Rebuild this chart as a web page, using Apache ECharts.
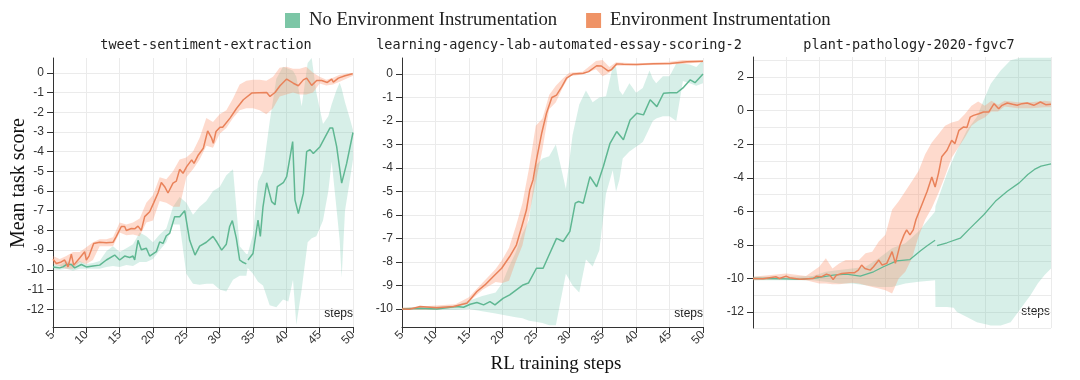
<!DOCTYPE html>
<html><head><meta charset="utf-8">
<script src="https://cdn.jsdelivr.net/npm/echarts@6/dist/echarts.min.js"></script>
<style>html,body{margin:0;padding:0;background:#fff}#c{width:1080px;height:380px}</style>
</head><body><div id="c"></div>
<script>
// ---------- labels ----------
const panelTitles = ['tweet-sentiment-extraction', 'learning-agency-lab-automated-essay-scoring-2', 'plant-pathology-2020-fgvc7'];
const seriesNames = ['No Environment Instrumentation', 'Environment Instrumentation'];
const yLabel = 'Mean task score';
const xLabel = 'RL training steps';
const stepsLabel = 'steps';

// ---------- panel 1: tweet-sentiment-extraction ----------
const p1Orange = [[5,-9.46],[5.5,-9.68],[6.25,-9.6],[6.75,-9.5],[7.25,-9.85],[7.75,-9.2],[8.1,-9.76],[9,-9.4],[9.75,-9.08],[10,-9.5],[10.4,-9.3],[11.1,-8.66],[12,-8.6],[13,-8.63],[14,-8.6],[14.5,-8.3],[15.25,-7.8],[15.75,-7.8],[16,-8.0],[16.75,-7.9],[17.25,-7.92],[17.75,-7.78],[18.25,-8.0],[18.75,-7.3],[19.5,-7.05],[20.1,-6.6],[20.75,-6.1],[21.25,-5.57],[21.75,-5.78],[22.25,-6.1],[23,-5.6],[23.5,-5.5],[24,-4.9],[24.5,-5.1],[25.05,-4.76],[25.8,-4.42],[26.15,-4.6],[26.8,-4.17],[27.55,-3.83],[28.2,-2.95],[28.8,-3.32],[29.05,-3.58],[29.45,-2.98],[30.05,-2.76],[30.45,-2.76],[31.55,-2.3],[32.55,-1.8],[33.55,-1.37],[34.8,-1.03],[37.05,-1.0],[37.55,-1.2],[38.3,-1.0],[39.05,-0.66],[40.05,-0.32],[41.05,-0.53],[41.8,-0.66],[42.55,-0.36],[43.05,-0.27],[43.8,-0.64],[44.55,-0.39],[45.3,-0.39],[46.15,-0.49],[46.8,-0.32],[47.05,-0.47],[47.8,-0.27],[48.8,-0.15],[49.95,-0.05]];
const p1OrangeBand = [[5,-9.7,-9.3],[6,-9.8,-9.45],[7,-9.95,-9.3],[8,-9.95,-9.1],[9,-9.6,-9.1],[10,-9.7,-8.85],[11,-9.5,-8.6],[12,-8.8,-8.45],[13,-8.8,-8.45],[14,-8.8,-8.35],[15,-8.1,-7.6],[16,-8.25,-7.7],[17,-8.2,-7.6],[18,-8.3,-7.4],[19,-7.6,-6.6],[20,-7.5,-6.2],[21,-6.5,-5.3],[22,-6.6,-5.4],[23,-6.8,-5.0],[24,-6.8,-4.4],[25,-5.3,-4.3],[26,-4.9,-4.0],[27,-4.4,-3.3],[28,-3.7,-2.3],[29,-3.8,-2.5],[30,-3.1,-2.1],[31,-2.8,-1.9],[32,-2.3,-1.3],[33,-1.9,-0.6],[34,-1.8,-0.4],[35,-1.8,-0.35],[36,-1.9,-0.35],[37,-2.1,-0.4],[38,-1.8,-0.2],[39,-1.2,0.25],[40,-1.1,0.3],[41,-1.0,0.2],[42,-1.1,0.2],[43,-1.1,0.3],[44,-1.0,0.0],[45,-0.55,-0.2],[46,-0.65,-0.35],[47,-0.6,-0.25],[48,-0.45,-0.1],[49,-0.3,-0.05],[50,-0.15,0.0]];
const p1Green = [[5,-9.85],[6,-9.9],[6.5,-9.85],[7,-9.73],[7.75,-9.73],[8.25,-9.9],[9.25,-9.73],[10,-9.85],[11,-9.8],[12,-9.76],[13,-9.5],[14.25,-9.25],[15,-9.5],[15.75,-9.3],[16.5,-9.37],[17,-9.3],[17.25,-9.5],[17.75,-8.5],[18.25,-8.98],[19,-8.9],[19.5,-9.3],[20.5,-9.08],[21,-8.58],[21.5,-8.66],[22,-8.27],[22.5,-8.15],[23.25,-7.3],[24,-7.3],[24.75,-7.0],[25.5,-8.5],[26.3,-9.25],[27,-8.8],[28,-8.6],[29,-8.3],[29.6,-8.6],[30.3,-9.0],[31,-8.7],[31.5,-7.8],[31.9,-7.5],[32.5,-8.4],[33,-9.5],[33.4,-9.6],[34,-9.7],[34.1,null],[34.25,-9.5],[35,-9.17],[35.75,-7.47],[36.1,-8.3],[36.5,-6.8],[37.05,-5.58],[37.8,-6.54],[38.3,-6.7],[38.65,-5.78],[39.55,-5.58],[40.05,-5.27],[40.95,-3.49],[41.3,-6.46],[41.8,-7.14],[42.55,-6.12],[43.05,-4.0],[43.55,-3.9],[44.05,-4.1],[45.05,-3.75],[46.55,-2.8],[46.95,-2.8],[47.55,-3.75],[48.3,-5.6],[49.05,-4.6],[50,-3.03]];
const p1GreenBand = [[5,-10.0,-9.7],[6,-10.0,-9.75],[7,-9.95,-9.55],[8,-10.05,-9.7],[9,-9.95,-9.55],[10,-9.95,-9.7],[11,-9.95,-9.65],[12,-9.95,-9.55],[13,-9.85,-9.05],[14,-9.8,-8.8],[15,-9.85,-9.1],[16,-9.75,-8.9],[17,-9.8,-8.7],[18,-9.6,-8.1],[19,-9.6,-8.3],[20,-9.45,-8.6],[21,-9.0,-8.2],[22,-8.6,-7.9],[23,-7.7,-6.8],[24,-7.7,-6.3],[25,-10.2,-6.6],[26,-10.7,-7.2],[27,-10.75,-6.8],[28,-10.7,-6.5],[29,-10.7,-6.0],[30,-11.0,-5.8],[31,-11.1,-5.2],[32,-10.5,-4.9],[33,-10.3,-8.8],[34,-10.3,-9.2],[34.2,-9.9,-9.2],[35,-10.2,-8.2],[35.75,-10.6,-5.5],[36.5,-10.8,-5.0],[37.5,-11.8,-2.5],[38.5,-11.9,-0.3],[39.5,-11.5,0.3],[40.3,-11.6,0.2],[41.0,-10.5,0.1],[41.5,-12.8,-0.2],[42.3,-11.0,-1.7],[43.2,-8.6,0.5],[43.8,-8.4,0.75],[44.5,-8.3,-1.0],[45.5,-7.5,-2.6],[46.3,-6.0,-2.2],[46.8,-4.5,-1.6],[47.5,-6.8,-0.9],[48.0,-8.5,-0.5],[48.3,-10.4,-0.8],[48.8,-7.0,-1.5],[49.5,-5.5,-2.3],[50,-4.4,-2.9]];

// ---------- panel 2: learning-agency-lab-automated-essay-scoring-2 ----------
const p2Orange = [[5,-10],[6.2,-10.01],[7.7,-9.9],[10.2,-9.95],[12.7,-9.9],[14.7,-9.76],[15.2,-9.6],[16.2,-9.26],[17.4,-8.98],[18.65,-8.62],[19.9,-8.27],[21.1,-7.77],[22.1,-7.28],[22.9,-6.5],[23.6,-5.79],[24.1,-4.94],[24.6,-4.5],[25.1,-3.66],[25.9,-2.5],[26.6,-1.67],[27.4,-1.0],[28.1,-0.9],[28.9,-0.54],[29.6,-0.18],[30.6,0.0],[32.1,0.03],[32.9,0.1],[34.1,0.35],[34.8,0.34],[35.8,0.13],[36.3,0.18],[37.1,0.43],[38.1,0.41],[40.1,0.4],[42.6,0.43],[45.1,0.45],[47.6,0.52],[50,0.54]];
const p2OrangeBand = [[5,-10.05,-9.95],[10,-10.05,-9.85],[13,-9.95,-9.8],[15,-9.7,-9.5],[17,-9.2,-8.9],[19,-8.85,-8.3],[20,-8.9,-7.9],[21,-8.8,-7.4],[22,-8.0,-6.5],[23,-7.3,-5.5],[24,-6.0,-4.0],[25,-4.6,-2.2],[26,-3.2,-1.9],[27,-1.5,-0.9],[28,-1.2,-0.5],[29,-0.6,-0.2],[30,-0.1,0.05],[32,-0.02,0.1],[34,0.2,0.55],[35,-0.1,0.6],[36,0.05,0.3],[37,0.35,0.5],[40,0.36,0.45],[45,0.4,0.52],[47,0.43,0.6],[50,0.5,0.58]];
const p2Green = [[5,-10],[7.7,-9.97],[10.2,-10.0],[12.2,-9.93],[13.2,-9.9],[14.2,-9.93],[15.2,-9.8],[16.2,-9.73],[17.2,-9.83],[18.15,-9.69],[18.9,-9.83],[20.1,-9.55],[21.1,-9.4],[22.1,-9.19],[23.1,-8.98],[23.9,-8.9],[25.1,-8.27],[26.1,-8.27],[27.1,-7.63],[28.1,-7.0],[29.1,-7.13],[30.1,-6.7],[30.9,-5.5],[31.4,-5.43],[32.1,-5.5],[33.1,-4.37],[34.1,-4.8],[35.1,-3.94],[36.1,-2.95],[37.1,-2.45],[38.1,-2.8],[39.1,-1.96],[40.1,-1.67],[41.1,-1.74],[42.1,-1.1],[43.1,-1.39],[44.1,-0.82],[45.1,-0.8],[46.1,-0.8],[47.1,-0.57],[48.1,-0.25],[48.8,-0.37],[50,0.0]];
const p2GreenBand = [[5,-10.05,-9.95],[10,-10.05,-9.9],[13,-10.05,-9.85],[15,-10.0,-9.65],[17,-10.1,-9.45],[19,-10.2,-9.3],[20,-10.25,-8.9],[21,-10.3,-8.2],[22,-10.35,-7.6],[23,-10.4,-6.8],[24,-10.5,-6.2],[25,-10.55,-3.9],[26,-10.6,-3.6],[27,-10.7,-3.5],[28,-10.7,-3.0],[29.5,-8.5,-4.9],[30.5,-9.0,-2.6],[31.5,-9.3,-1.3],[32.5,-7.9,-0.7],[33.5,-8.2,-1.2],[34.5,-7.5,-1.0],[35.5,-5.1,-0.95],[36.5,-4.1,0.3],[37,-5.0,0.3],[37.5,-4.5,-0.7],[38,-3.6,-0.9],[39,-3.3,-0.4],[40,-3.1,-0.8],[41,-2.9,-0.6],[42,-2.3,0.15],[42.5,-2.0,-0.2],[43,-1.9,-0.4],[44,-1.8,-0.1],[45,-1.8,-0.1],[46,-2.0,0.45],[47,-0.3,0.45],[48,-0.4,0.4],[49,-0.5,0.3],[50,-0.4,0.6]];

// ---------- panel 3: plant-pathology-2020-fgvc7 ----------
const p3Orange = [[5,-10.0],[6.5,-10.02],[7.0,-9.98],[8.5,-9.9],[9,-10.0],[10,-9.86],[10.5,-9.95],[12.1,-10.04],[14.1,-10.0],[14.6,-9.86],[15.3,-9.9],[16.1,-9.74],[16.6,-9.8],[17.1,-10.06],[17.6,-9.8],[18.4,-9.7],[19.6,-9.66],[20.3,-9.66],[20.9,-9.5],[21.4,-9.2],[21.9,-9.4],[22.7,-9.5],[23.2,-9.3],[24,-8.9],[24.5,-9.2],[25.2,-9.1],[26,-8.4],[26.5,-9.1],[27.2,-8.0],[27.8,-7.4],[28.2,-7.1],[28.7,-7.4],[29.2,-7.1],[29.6,-6.5],[30.5,-5.6],[31.3,-4.8],[32,-3.95],[32.5,-4.55],[33,-3.75],[33.5,-2.75],[34.3,-2.36],[35,-1.77],[35.5,-1.96],[36.1,-1.17],[36.8,-0.97],[37.3,-1.0],[37.8,-0.38],[38.3,-0.28],[39.1,-0.18],[39.8,-0.08],[40.6,-0.08],[41.4,0.42],[42.1,0.12],[42.6,0.32],[43.4,0.46],[44.2,0.38],[44.9,0.32],[45.6,0.42],[46.4,0.46],[47.4,0.32],[48.4,0.52],[49.2,0.36],[50,0.38]];
const p3OrangeBand = [[5,-10.1,-9.9],[10,-10.05,-9.7],[13,-10.1,-9.85],[15,-10.3,-9.3],[16,-10.3,-8.8],[17,-10.35,-9.4],[18,-10.35,-9.1],[19,-10.3,-8.9],[20,-10.25,-8.9],[21,-10.3,-8.9],[22,-10.4,-8.5],[23,-10.5,-8.4],[24,-10.6,-7.8],[25,-10.7,-7.4],[26,-10.9,-5.9],[27,-10.0,-5.4],[28,-9.6,-4.8],[29,-8.8,-4.2],[30,-7.5,-3.6],[31,-6.5,-2.6],[32,-5.8,-1.9],[33,-4.9,-1.4],[34,-3.9,-0.9],[35,-2.8,-0.7],[36,-2.2,-0.6],[37,-1.6,-0.2],[38,-0.9,0.3],[39,-0.6,0.55],[40,-0.4,0.3],[41,-0.05,0.6],[42,-0.05,0.35],[43,0.25,0.6],[45,0.15,0.5],[47,0.15,0.5],[49,0.2,0.6],[50,0.2,0.55]];
const p3Green = [[5,-10.0],[7,-10.0],[10,-10.02],[12.1,-10.05],[14.6,-9.96],[17.1,-9.8],[19.1,-9.74],[21.2,-9.86],[23.2,-9.6],[24.7,-9.3],[26.7,-8.95],[28.7,-8.87],[30.3,-8.35],[31.3,-8.05],[32.5,-7.72],[32.65,null],[32.8,-8.04],[34.3,-7.87],[36.3,-7.6],[37.8,-7.0],[39.85,-6.2],[41.6,-5.4],[43.4,-4.8],[45.2,-4.3],[46.5,-3.8],[47.5,-3.5],[48.5,-3.3],[50,-3.17]];
const p3GreenBand = [[5,-10.1,-9.9],[10,-10.1,-9.9],[14,-10.1,-9.85],[16,-10.2,-9.6],[18,-10.3,-9.5],[20,-10.3,-9.4],[22,-10.4,-9.3],[24,-10.5,-8.8],[26,-10.5,-8.2],[28,-10.3,-7.9],[30,-10.2,-7.2],[32.5,-10.1,-6.0],[32.55,-11.7,-5.7],[34.3,-11.7,-3.75],[35.3,-11.75,-2.8],[35.8,-12.0,-2.36],[37.3,-12.3,-1.17],[38.8,-12.6,-0.38],[39.8,-12.7,0.6],[40.9,-12.8,1.6],[42.4,-12.8,2.4],[43.9,-12.6,3.0],[45.4,-11.8,3.15],[46.9,-11.0,3.15],[48.0,-10.3,3.15],[49.0,-9.8,3.15],[50,-9.4,3.15]];

// ---------- styling ----------
const C = {
  greenLine: '#5fb792', orangeLine: '#e9825a',
  greenBand: 'rgba(102,194,165,0.26)', orangeBand: 'rgba(252,141,98,0.32)',
  greenKey: '#7cc6a6', orangeKey: '#ef9366',
  axis: '#333', grid: '#ebebeb'
};
const sans = 'Liberation Sans';
const serif = 'Liberation Serif';
const mono = 'DejaVu Sans Mono';

const grids = [
  {left: 53, top: 58, width: 300, height: 269},
  {left: 402, top: 58, width: 301, height: 269},
  {left: 753, top: 57, width: 298, height: 271}
];

function xAx(g, show) {
  return {type: 'value', gridIndex: g, min: 5, max: 50, interval: 5,
    axisLine: {show: show, onZero: false, lineStyle: {color: C.axis}},
    axisTick: {show: show, length: 6, lineStyle: {color: C.axis}},
    axisLabel: {show: show, rotate: 45, fontSize: 12, color: C.axis, margin: 6, fontFamily: sans},
    splitLine: {show: true, lineStyle: {color: C.grid}}};
}
function yAx(g, min, max, step, opts) {
  opts = opts || {};
  return {type: 'value', gridIndex: g, min: min, max: max, minInterval: step, maxInterval: step,
    axisLine: {show: opts.hidden ? false : true, onZero: false, lineStyle: {color: C.axis}},
    axisTick: {show: opts.hidden ? false : true, length: 6, lineStyle: {color: C.axis}},
    axisLabel: {show: opts.hidden ? false : true, showMinLabel: false, showMaxLabel: false, fontSize: 12, color: C.axis, margin: 9, fontFamily: sans},
    splitLine: {show: opts.split !== false, showMaxLine: false, lineStyle: {color: C.grid}}};
}

// shaded spread: polygon through upper edge then lower edge, placed with the axes' own scales
function bandSeries(g, yi, pts, color) {
  return {type: 'custom', coordinateSystem: 'cartesian2d', xAxisIndex: g, yAxisIndex: yi,
    data: pts, encode: {x: 0, y: [1, 2]}, clip: true, silent: true, z: 1, animation: false,
    renderItem: function (params, api) {
      if (params.dataIndex !== 0) return null;
      const upper = pts.map(p => api.coord([p[0], p[2]]));
      const lower = pts.slice().reverse().map(p => api.coord([p[0], p[1]]));
      return {type: 'polygon', shape: {points: upper.concat(lower)}, style: {fill: color}};
    }};
}
function lineSeries(name, g, yi, pts, color, w) {
  return {type: 'line', name: name, xAxisIndex: g, yAxisIndex: yi, symbol: 'none', showSymbol: false,
    data: pts.map(p => [p[0], p[1] == null ? '-' : p[1]]),
    lineStyle: {color: color, width: w}, itemStyle: {color: color}, silent: true, z: 3, animation: false};
}

const series = [
  bandSeries(0, 0, p1GreenBand, C.greenBand),
  bandSeries(0, 0, p1OrangeBand, C.orangeBand),
  bandSeries(1, 1, p2GreenBand, C.greenBand),
  bandSeries(1, 1, p2OrangeBand, C.orangeBand),
  bandSeries(2, 2, p3GreenBand, C.greenBand),
  bandSeries(2, 2, p3OrangeBand, C.orangeBand),
  lineSeries(seriesNames[0], 0, 0, p1Green, C.greenLine, 1.5),
  lineSeries(seriesNames[1], 0, 0, p1Orange, C.orangeLine, 1.5),
  lineSeries(seriesNames[0], 1, 1, p2Green, C.greenLine, 1.5),
  lineSeries(seriesNames[1], 1, 1, p2Orange, C.orangeLine, 1.5),
  lineSeries(seriesNames[0], 2, 2, p3Green, C.greenLine, 1.3),
  lineSeries(seriesNames[1], 2, 2, p3Orange, C.orangeLine, 1.5)
];

const titleCenters = [206, 559, 909];
const stepsPos = [[353, 314], [703, 314], [1050, 312]];
const graphic = [];
panelTitles.forEach((t, i) => graphic.push({type: 'text', x: titleCenters[i], y: 45,
  style: {text: t, font: '13.5px "' + mono + '"', fill: '#222', textAlign: 'center', textVerticalAlign: 'middle'}, silent: true}));
stepsPos.forEach(p => graphic.push({type: 'text', x: p[0], y: p[1],
  style: {text: stepsLabel, font: '12px "' + sans + '"', fill: '#222', textAlign: 'right', textVerticalAlign: 'middle'}, silent: true}));
graphic.push({type: 'text', x: 19, y: 183, rotation: Math.PI / 2,
  style: {text: yLabel, font: '20px "' + serif + '"', fill: '#111', textAlign: 'center', textVerticalAlign: 'middle'}, silent: true});
graphic.push({type: 'text', x: 556, y: 364,
  style: {text: xLabel, font: '19px "' + serif + '"', fill: '#111', textAlign: 'center', textVerticalAlign: 'middle'}, silent: true});

const chart = echarts.init(document.getElementById('c'), null, {renderer: 'canvas'});
chart.setOption({
  animation: false,
  backgroundColor: '#fff',
  legend: {
    left: 285, top: 11, padding: 0, itemWidth: 15, itemHeight: 15, itemGap: 29, icon: 'rect',
    data: [
      {name: seriesNames[0], itemStyle: {color: C.greenKey}},
      {name: seriesNames[1], itemStyle: {color: C.orangeKey}}
    ],
    textStyle: {fontFamily: serif, fontSize: 18.7, color: '#222', padding: [0, 0, 0, 4]},
    selectedMode: false
  },
  grid: grids,
  xAxis: [xAx(0, true), xAx(1, true), xAx(2, false)],
  yAxis: [
    yAx(0, -12.9, 0.75, 1),
    yAx(1, -10.77, 0.68, 1),
    yAx(2, -12.95, 3.2, 2, {split: false}),
    yAx(2, -12.95, 3.2, 1, {hidden: true})
  ],
  graphic: graphic,
  series: series
});
</script></body></html>
